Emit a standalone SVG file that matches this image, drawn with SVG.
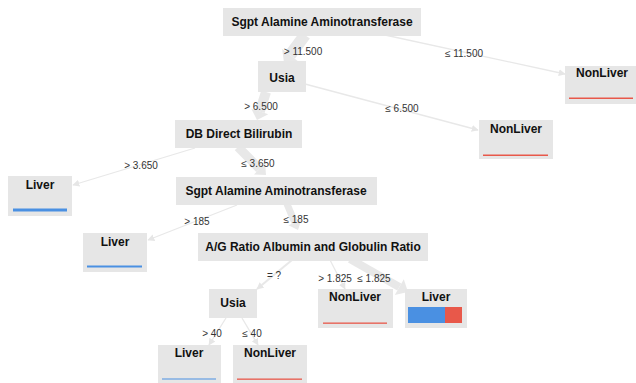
<svg xmlns="http://www.w3.org/2000/svg" width="636" height="383" viewBox="0 0 636 383">
<defs>
<marker id="ah" viewBox="0 0 10 10" refX="9" refY="5" markerWidth="7" markerHeight="7" orient="auto" markerUnits="userSpaceOnUse">
<path d="M0,0 L10,5 L0,10 z" fill="#e6e6e6"/>
</marker>
</defs>
<style>
.box{fill:#e6e6e6}
.nt{font-family:"Liberation Sans",Arial,sans-serif;font-size:12px;font-weight:bold;fill:#111;text-anchor:middle}
.el{font-family:"Liberation Sans",Arial,sans-serif;font-size:10px;fill:#333;text-anchor:middle}
.thin{stroke:#e8e8e8;stroke-width:1.3;fill:none;marker-end:url(#ah)}
.band{stroke:#e8e8e8;fill:none}
.head{fill:#e8e8e8}
.liv{fill:#4a90e2}
.non{fill:#e8584a}
</style>
<rect width="636" height="383" fill="#ffffff"/>
<g id="connectors">
<line class="thin" x1="385" y1="35" x2="565" y2="74"/>
<line class="thin" x1="305" y1="84" x2="478" y2="130"/>
<line class="thin" x1="195" y1="148" x2="73" y2="185"/>
<line class="thin" x1="237" y1="205" x2="148" y2="240"/>
<line class="thin" x1="292" y1="260" x2="257" y2="289" style="stroke-width:2"/>
<line class="thin" x1="330" y1="260" x2="345" y2="289"/>
<line class="thin" x1="226" y1="318" x2="209" y2="345"/>
<line class="thin" x1="242" y1="318" x2="258" y2="345"/>
<line class="band" x1="305" y1="35" x2="290.1" y2="55.1" stroke-width="12"/>
<polygon class="head" points="284,63 298,61.2 282.2,49"/>
<line class="band" x1="266" y1="92" x2="259.8" y2="111.5" stroke-width="10"/>
<polygon class="head" points="257,120 268.3,114.3 251.3,108.7"/>
<line class="band" x1="238" y1="147" x2="259.5" y2="168.8" stroke-width="9"/>
<polygon class="head" points="266,175 254,174.5 265.1,163"/>
<line class="band" x1="287" y1="204" x2="294.9" y2="222.6" stroke-width="7"/>
<polygon class="head" points="298,230 288.4,225.3 301.3,219.9"/>
<line class="band" x1="350" y1="259" x2="399.3" y2="287.1" stroke-width="8"/>
<polygon class="head" points="408,292 394.8,294.9 403.8,279.3"/>
<text class="el" x="303" y="55">&gt; 11.500</text>
<text class="el" x="464" y="57">≤ 11.500</text>
<text class="el" x="261" y="110">&gt; 6.500</text>
<text class="el" x="402" y="112">≤ 6.500</text>
<text class="el" x="141" y="169">&gt; 3.650</text>
<text class="el" x="258" y="167">≤ 3.650</text>
<text class="el" x="197" y="225">&gt; 185</text>
<text class="el" x="296" y="223">≤ 185</text>
<text class="el" x="274" y="279">= ?</text>
<text class="el" x="335" y="282">&gt; 1.825</text>
<text class="el" x="374" y="282">≤ 1.825</text>
<text class="el" x="212" y="337">&gt; 40</text>
<text class="el" x="252" y="337">≤ 40</text>
</g>
<g id="n0"><rect class="box" x="223" y="8" width="198" height="28"/><text class="nt" x="322" y="26">Sgpt Alamine Aminotransferase</text></g>
<g id="n1"><rect class="box" x="258" y="61" width="48" height="31"/><text class="nt" x="282" y="82">Usia</text></g>
<g id="n2"><rect class="box" x="565" y="66" width="71" height="38"/><text class="nt" x="602" y="77">NonLiver</text><rect class="non" x="569" y="97.5" width="64" height="1.5"/></g>
<g id="n3"><rect class="box" x="479" y="120" width="74" height="39"/><text class="nt" x="516" y="133">NonLiver</text><rect class="non" x="483" y="154.5" width="65" height="1.5"/></g>
<g id="n4"><rect class="box" x="175" y="120" width="127" height="28"/><text class="nt" x="239" y="138">DB Direct Bilirubin</text></g>
<g id="n5"><rect class="box" x="8" y="176" width="64" height="40"/><text class="nt" x="40" y="189">Liver</text><rect class="liv" x="13" y="208.5" width="54" height="3"/></g>
<g id="n6"><rect class="box" x="176" y="177" width="201" height="28"/><text class="nt" x="276" y="195">Sgpt Alamine Aminotransferase</text></g>
<g id="n7"><rect class="box" x="83" y="233" width="64" height="39"/><text class="nt" x="115" y="246">Liver</text><rect class="liv" x="87" y="265.5" width="55" height="2"/></g>
<g id="n8"><rect class="box" x="198" y="233" width="230" height="28"/><text class="nt" x="313" y="251">A/G Ratio Albumin and Globulin Ratio</text></g>
<g id="n9"><rect class="box" x="209" y="289" width="48" height="29"/><text class="nt" x="233" y="307">Usia</text></g>
<g id="n10"><rect class="box" x="318" y="289" width="75" height="39"/><text class="nt" x="355" y="301">NonLiver</text><rect class="non" x="323" y="322.5" width="64" height="1.3"/></g>
<g id="n11"><rect class="box" x="405" y="289" width="62" height="39"/><text class="nt" x="436" y="301">Liver</text><rect class="liv" x="408" y="307" width="37" height="16"/><rect class="non" x="445" y="307" width="17" height="16"/></g>
<g id="n12"><rect class="box" x="158" y="345" width="63" height="38"/><text class="nt" x="189" y="357">Liver</text><rect class="liv" x="162" y="378.5" width="54" height="1"/></g>
<g id="n13"><rect class="box" x="233" y="345" width="74" height="38"/><text class="nt" x="270" y="357">NonLiver</text><rect class="non" x="237" y="378.5" width="65" height="1.3"/></g>
</svg>
